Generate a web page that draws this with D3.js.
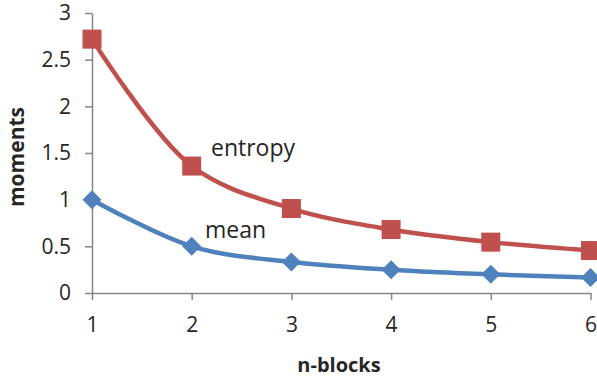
<!DOCTYPE html>
<html>
<head>
<meta charset="utf-8">
<script src="https://cdn.jsdelivr.net/npm/d3@7"></script>
<style>
  body { margin: 0; background: #fff; }
  svg text { font-family: "Open Sans", sans-serif; fill: #262626; }
</style>
</head>
<body>
<div id="chart"></div>
<script>
// Data
const blocks = [1, 2, 3, 4, 5, 6];
const entropy = [2.72, 1.36, 0.905, 0.68, 0.545, 0.455];
const mean = [1, 0.5, 0.333, 0.25, 0.2, 0.167];
const yTicks = [0, 0.5, 1, 1.5, 2, 2.5, 3];

const margin = { top: 13, right: 6, bottom: 84, left: 92 };
const width = 597 - margin.left - margin.right;
const height = 377 - margin.top - margin.bottom;

const svg = d3.select("#chart")
  .append("svg")
  .attr("width", 597)
  .attr("height", 377)
  .append("g")
  .attr("transform", `translate(${margin.left},${margin.top})`);

const x = d3.scaleLinear().domain([1, 6]).range([0, width - 0.5]);
const y = d3.scaleLinear().domain([0, 3]).range([height, 0]);

// Y axis
svg.append("g")
  .call(d3.axisLeft(y)
    .tickValues(yTicks)
    .tickFormat(d => d)
    .tickSize(7)
    .tickSizeOuter(0)
    .tickPadding(14))
  .call(g => g.selectAll("line, path").attr("stroke", "#868686").attr("stroke-width", 1.5))
  .selectAll(".tick text")
  .style("font-size", "21px");

// X axis
svg.append("g")
  .attr("transform", `translate(0,${height})`)
  .call(d3.axisBottom(x)
    .tickValues(blocks)
    .tickFormat(d => d)
    .tickSize(7)
    .tickSizeOuter(0)
    .tickPadding(17))
  .call(g => g.selectAll("line, path").attr("stroke", "#868686").attr("stroke-width", 1.5))
  .selectAll(".tick text")
  .style("font-size", "21px");

// Axis titles
svg.append("text")
  .attr("transform", "rotate(-90)")
  .attr("x", -(157 - margin.top))
  .attr("y", 24 - margin.left)
  .attr("text-anchor", "middle")
  .style("font-size", "21px")
  .style("font-weight", "bold")
  .text("moments");

svg.append("text")
  .attr("x", 339 - margin.left)
  .attr("y", 372 - margin.top)
  .attr("text-anchor", "middle")
  .style("font-size", "20px")
  .style("font-weight", "bold")
  .text("n-blocks");

const line = d3.line()
  .x((d, i) => x(blocks[i]))
  .y(d => y(d))
  .curve(d3.curveCatmullRom.alpha(0.5));

// Lines
svg.append("path")
  .datum(mean)
  .attr("fill", "none")
  .attr("stroke", "#4F81BD")
  .attr("stroke-width", 4.5)
  .attr("d", line);

svg.append("path")
  .datum(entropy)
  .attr("fill", "none")
  .attr("stroke", "#C0504D")
  .attr("stroke-width", 4.5)
  .attr("d", line);

// Markers
svg.selectAll(".diamond")
  .data(mean)
  .join("path")
  .attr("class", "diamond")
  .attr("transform", (d, i) => `translate(${x(blocks[i])},${y(d)})`)
  .attr("d", "M0,-9.5L9.5,0L0,9.5L-9.5,0Z")
  .attr("fill", "#4F81BD");

svg.selectAll(".square")
  .data(entropy)
  .join("rect")
  .attr("class", "square")
  .attr("x", (d, i) => x(blocks[i]) - 9.5)
  .attr("y", d => y(d) - 9.5)
  .attr("width", 19)
  .attr("height", 19)
  .attr("fill", "#C0504D");

// Series labels
svg.append("text")
  .attr("x", 211 - margin.left)
  .attr("y", 156 - margin.top)
  .style("font-size", "23px")
  .text("entropy");

svg.append("text")
  .attr("x", 205 - margin.left)
  .attr("y", 238 - margin.top)
  .style("font-size", "23px")
  .text("mean");
</script>
</body>
</html>
